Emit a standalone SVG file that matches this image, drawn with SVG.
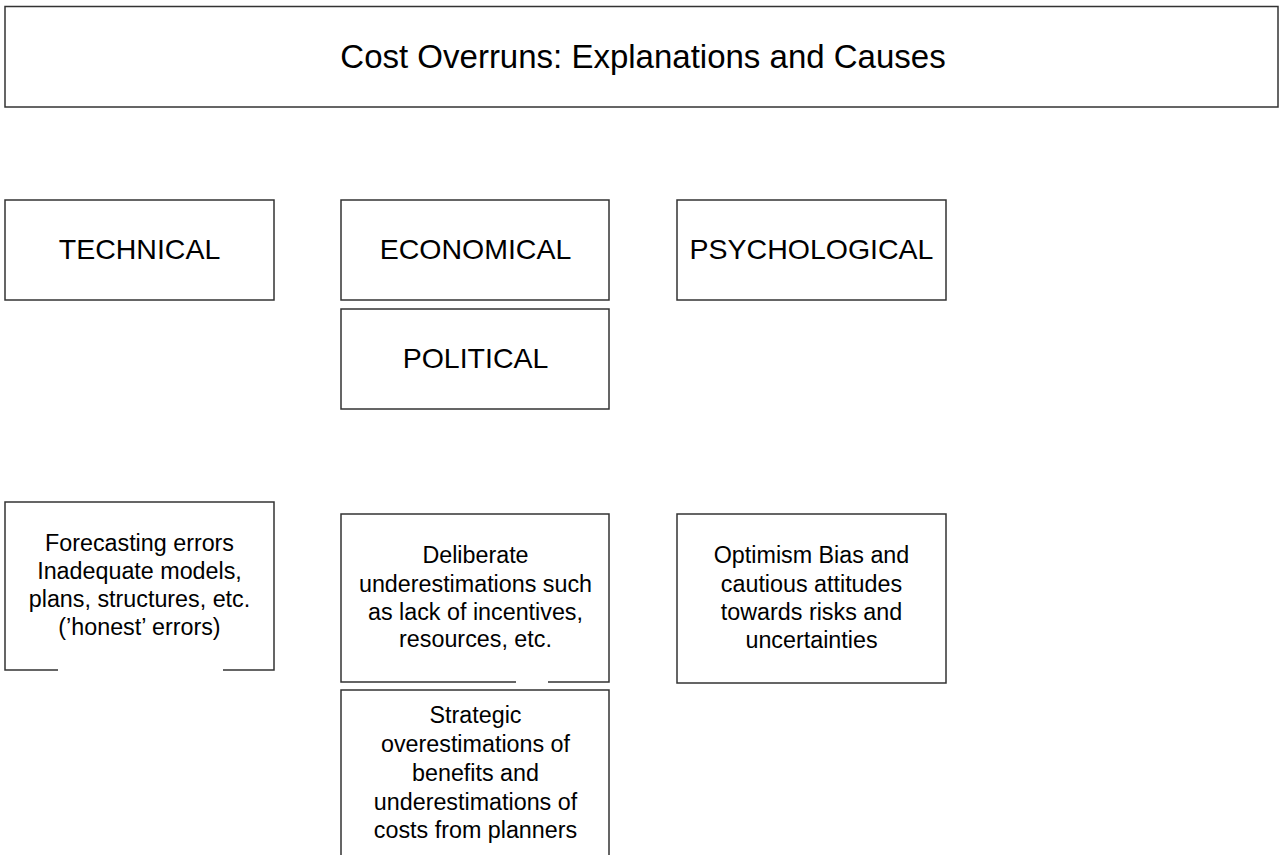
<svg xmlns="http://www.w3.org/2000/svg" width="1282" height="855" viewBox="0 0 1282 855">
<style>
.box{fill:none;stroke:#333;stroke-width:1.5}
.t{font-family:"Liberation Sans",Arial,sans-serif;fill:#000;text-anchor:middle}
.h{font-size:28.5px}
.b{font-size:23.3px}
.title{font-size:33px}
</style>
<rect x="0" y="0" width="1282" height="855" fill="#fff"/>
<g id="title">
<rect class="box" x="5" y="6.5" width="1273" height="100.5"/>
<text class="t title" x="643" y="67.5">Cost Overruns: Explanations and Causes</text>
</g>
<g id="technical">
<rect class="box" x="5" y="200" width="269" height="100"/>
<text class="t h" x="139.5" y="259">TECHNICAL</text>
</g>
<g id="economical">
<rect class="box" x="341" y="200" width="268" height="100"/>
<text class="t h" x="475.5" y="259">ECONOMICAL</text>
</g>
<g id="political">
<rect class="box" x="341" y="309" width="268" height="100"/>
<text class="t h" x="475.5" y="368">POLITICAL</text>
</g>
<g id="psychological">
<rect class="box" x="677" y="200" width="269" height="100"/>
<text class="t h" x="811.5" y="259">PSYCHOLOGICAL</text>
</g>
<g id="forecasting">
<path class="box" d="M58,670 H5 V502 H274 V670 H223"/>
<text class="t b" x="139.5" y="551">Forecasting errors</text>
<text class="t b" x="139.5" y="579">Inadequate models,</text>
<text class="t b" x="139.5" y="607">plans, structures, etc.</text>
<text class="t b" x="139.5" y="635">(’honest’ errors)</text>
</g>
<g id="deliberate">
<path class="box" d="M516,682 H341 V514 H609 V682 H548"/>
<text class="t b" x="475.5" y="563">Deliberate</text>
<text class="t b" x="475.5" y="592">underestimations such</text>
<text class="t b" x="475.5" y="620">as lack of incentives,</text>
<text class="t b" x="475.5" y="647">resources, etc.</text>
</g>
<g id="strategic">
<path class="box" d="M341,856 V690 H609 V856"/>
<text class="t b" x="475.5" y="723">Strategic</text>
<text class="t b" x="475.5" y="752">overestimations of</text>
<text class="t b" x="475.5" y="781">benefits and</text>
<text class="t b" x="475.5" y="810">underestimations of</text>
<text class="t b" x="475.5" y="838">costs from planners</text>
</g>
<g id="optimism">
<rect class="box" x="677" y="514" width="269" height="169"/>
<text class="t b" x="811.5" y="563">Optimism Bias and</text>
<text class="t b" x="811.5" y="592">cautious attitudes</text>
<text class="t b" x="811.5" y="620">towards risks and</text>
<text class="t b" x="811.5" y="648">uncertainties</text>
</g>
<g id="connectors"></g>
</svg>
